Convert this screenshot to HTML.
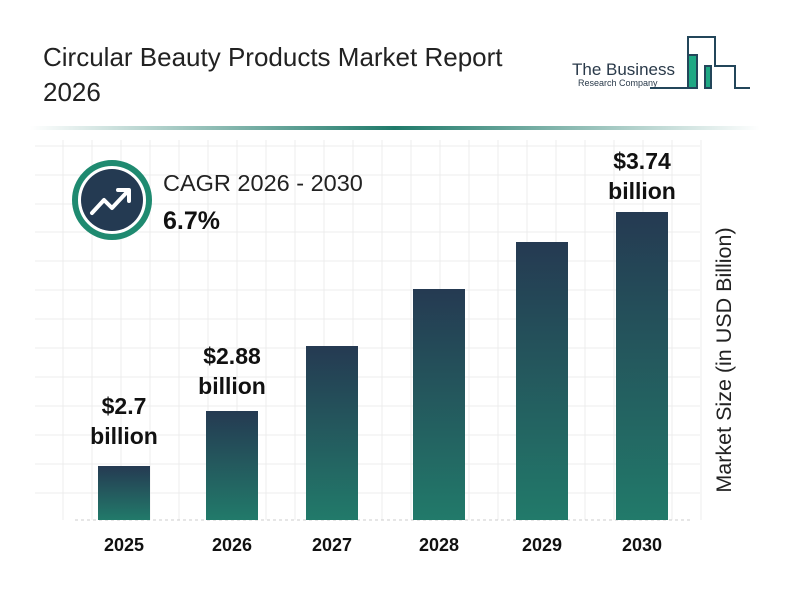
<!DOCTYPE html>
<html><head><style>
body{margin:0;width:800px;height:600px;background:#fff;font-family:"Liberation Sans",sans-serif;position:relative;overflow:hidden}
.t{position:absolute;left:43px;top:40px;font-size:26px;line-height:35px;color:#222}
.bar{position:absolute;width:52px;bottom:80px;background:linear-gradient(#253a52,#227a6a)}
.lab{position:absolute;font-weight:bold;font-size:23px;text-align:center;width:120px;line-height:30px;color:#111}
.yr{position:absolute;top:535px;font-weight:bold;font-size:18px;width:80px;text-align:center;color:#111}
</style></head><body>
<svg width="800" height="600" style="position:absolute;left:0;top:0">
<defs><linearGradient id="hl" x1="0" x2="1"><stop offset="0" stop-color="#fff"/><stop offset="0.5" stop-color="#1f7a6a"/><stop offset="1" stop-color="#fff"/></linearGradient></defs>
<rect x="30" y="126" width="730" height="4" fill="url(#hl)"/>
<g stroke="#ececec" stroke-width="1">
<line x1="35" y1="146" x2="700" y2="146"/><line x1="35" y1="175" x2="700" y2="175"/><line x1="35" y1="204" x2="700" y2="204"/><line x1="35" y1="232" x2="700" y2="232"/><line x1="35" y1="261" x2="700" y2="261"/><line x1="35" y1="290" x2="700" y2="290"/><line x1="35" y1="319" x2="700" y2="319"/><line x1="35" y1="348" x2="700" y2="348"/><line x1="35" y1="377" x2="700" y2="377"/><line x1="35" y1="406" x2="700" y2="406"/><line x1="35" y1="435" x2="700" y2="435"/><line x1="35" y1="464" x2="700" y2="464"/><line x1="35" y1="493" x2="700" y2="493"/>
<line x1="63" y1="140" x2="63" y2="520"/><line x1="92" y1="140" x2="92" y2="520"/><line x1="121" y1="140" x2="121" y2="520"/><line x1="150" y1="140" x2="150" y2="520"/><line x1="179" y1="140" x2="179" y2="520"/><line x1="208" y1="140" x2="208" y2="520"/><line x1="237" y1="140" x2="237" y2="520"/><line x1="266" y1="140" x2="266" y2="520"/><line x1="295" y1="140" x2="295" y2="520"/><line x1="324" y1="140" x2="324" y2="520"/><line x1="353" y1="140" x2="353" y2="520"/><line x1="382" y1="140" x2="382" y2="520"/><line x1="411" y1="140" x2="411" y2="520"/><line x1="440" y1="140" x2="440" y2="520"/><line x1="469" y1="140" x2="469" y2="520"/><line x1="498" y1="140" x2="498" y2="520"/><line x1="527" y1="140" x2="527" y2="520"/><line x1="556" y1="140" x2="556" y2="520"/><line x1="585" y1="140" x2="585" y2="520"/><line x1="614" y1="140" x2="614" y2="520"/><line x1="643" y1="140" x2="643" y2="520"/><line x1="672" y1="140" x2="672" y2="520"/><line x1="701" y1="140" x2="701" y2="520"/>
</g>
<line x1="75" y1="520" x2="690" y2="520" stroke="#ccc" stroke-dasharray="3,3"/>
<circle cx="112" cy="200" r="37" fill="#fff" stroke="#1f8a70" stroke-width="6"/>
<circle cx="112" cy="200" r="31" fill="#243a52"/>
<polyline points="92,213 104,200 112,208 128,191" fill="none" stroke="#fff" stroke-width="4" stroke-linecap="round" stroke-linejoin="round"/>
<polyline points="118,190 129,190 129,201" fill="none" stroke="#fff" stroke-width="4" stroke-linecap="round" stroke-linejoin="round"/>
<g fill="none" stroke="#23465a" stroke-width="2"><polyline points="650,88 688,88 688,37 715,37 715,66 735,66 735,88 750,88"/></g>
<rect x="688" y="55" width="9" height="33" fill="#1fa884" stroke="#23465a" stroke-width="2"/>
<rect x="705" y="66" width="6" height="22" fill="#1fa884" stroke="#23465a" stroke-width="2"/>
<text x="572" y="75" font-size="17" fill="#2a3a4a" font-family="Liberation Sans">The Business</text>
<text x="578" y="86" font-size="9" fill="#2a3a4a" font-family="Liberation Sans">Research Company</text>
<text transform="translate(731,360) rotate(-90)" text-anchor="middle" font-size="21.5" fill="#222" font-family="Liberation Sans">Market Size (in USD Billion)</text>
</svg>
<div class="t">Circular Beauty Products Market Report<br>2026</div>
<div style="position:absolute;left:163px;top:170px;font-size:23.5px;color:#222">CAGR 2026 - 2030</div>
<div style="position:absolute;left:163px;top:207px;font-size:25px;font-weight:bold;color:#111">6.7%</div>
<div class="bar" style="left:98px;height:54px"></div>
<div class="bar" style="left:206px;height:109px"></div>
<div class="bar" style="left:306px;height:174px"></div>
<div class="bar" style="left:413px;height:231px"></div>
<div class="bar" style="left:516px;height:278px"></div>
<div class="bar" style="left:616px;height:308px"></div>
<div class="lab" style="left:64px;top:391px">$2.7<br>billion</div>
<div class="lab" style="left:172px;top:341px">$2.88<br>billion</div>
<div class="lab" style="left:582px;top:146px">$3.74<br>billion</div>
<div class="yr" style="left:84px">2025</div>
<div class="yr" style="left:192px">2026</div>
<div class="yr" style="left:292px">2027</div>
<div class="yr" style="left:399px">2028</div>
<div class="yr" style="left:502px">2029</div>
<div class="yr" style="left:602px">2030</div>
</body></html>
